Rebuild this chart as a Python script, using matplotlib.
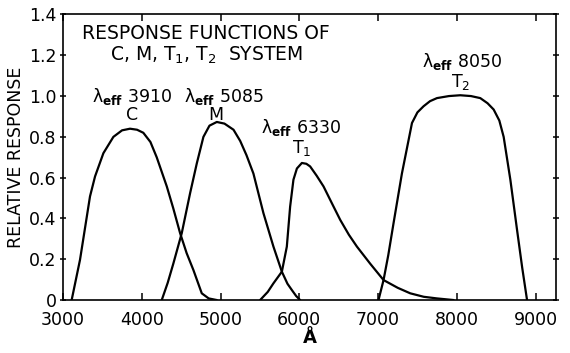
import numpy as np
import matplotlib
matplotlib.use("Agg")
import matplotlib.pyplot as plt

# response curves (wavelength in A, relative response)
c_wl = [3110, 3216, 3343, 3407, 3513, 3640, 3750, 3851, 3940, 4020, 4110, 4190,
        4318, 4400, 4487, 4570, 4656, 4762, 4850, 4953]
c_r = [0, 0.197, 0.508, 0.606, 0.72, 0.80, 0.832, 0.84, 0.835, 0.82, 0.775, 0.70,
       0.557, 0.45, 0.328, 0.23, 0.147, 0.033, 0.008, 0]

m_wl = [4254, 4330, 4402, 4508, 4614, 4699, 4783, 4860, 4953, 5050, 5165, 5250,
        5330, 5418, 5545, 5672, 5779, 5850, 5906, 5960, 6011]
m_r = [0, 0.085, 0.18, 0.328, 0.524, 0.67, 0.80, 0.855, 0.873, 0.865, 0.835, 0.78,
       0.71, 0.62, 0.426, 0.262, 0.139, 0.08, 0.049, 0.02, 0]

t1_wl = [5503, 5600, 5672, 5779, 5842, 5884, 5926, 5970, 6033, 6090, 6138, 6220,
         6308, 6420, 6520, 6630, 6732, 6901, 7070, 7250, 7409, 7580, 7748, 7960]
t1_r = [0, 0.04, 0.082, 0.139, 0.262, 0.458, 0.59, 0.645, 0.672, 0.668, 0.655, 0.61,
        0.557, 0.47, 0.393, 0.32, 0.262, 0.178, 0.098, 0.06, 0.033, 0.016, 0.008, 0]

t2_wl = [7006, 7070, 7130, 7197, 7303, 7431, 7500, 7578, 7660, 7748, 7900, 8044,
         8180, 8298, 8390, 8468, 8540, 8595, 8680, 8765, 8830, 8892]
t2_r = [0, 0.098, 0.22, 0.377, 0.62, 0.868, 0.92, 0.95, 0.975, 0.99, 1.0, 1.004,
        1.0, 0.99, 0.965, 0.934, 0.88, 0.80, 0.59, 0.344, 0.16, 0]

x_ticks = [3000, 4000, 5000, 6000, 7000, 8000, 9000]
y_ticks = [0, 0.2, 0.4, 0.6, 0.8, 1.0, 1.2, 1.4]
y_labels = ['0', '0.2', '0.4', '0.6', '0.8', '1.0', '1.2', '1.4']

fig = plt.figure(figsize=(5.7, 3.53), dpi=100)
ax = fig.add_axes([0.1105, 0.150, 0.865, 0.809])

for wl, r in [(c_wl, c_r), (m_wl, m_r), (t1_wl, t1_r), (t2_wl, t2_r)]:
    ax.plot(wl, r, color='black', lw=1.6, solid_capstyle='round')

ax.set_xlim(3000, 9260)
ax.set_ylim(0, 1.4)
ax.set_xticks(x_ticks)
ax.set_yticks(y_ticks)
ax.set_yticklabels(y_labels)
ax.tick_params(axis='both', labelsize=12.5, length=5, width=1.1, color='black')
ax.tick_params(axis='x', direction='in', top=True, pad=8)
ax.tick_params(axis='y', direction='inout', right=True, pad=2)
for s in ax.spines.values():
    s.set_linewidth(1.2)

ax.set_ylabel('RELATIVE RESPONSE', fontsize=12.5, labelpad=3)
ax.set_xlabel('Å', fontsize=13, fontweight='bold', labelpad=0)

ax.text(4820, 1.305, 'RESPONSE FUNCTIONS OF', fontsize=13.5, ha='center', va='center')
ax.text(4820, 1.2, r'C, M, T$_\mathregular{1}$, T$_\mathregular{2}$  SYSTEM',
        fontsize=13.5, ha='center', va='center')

lab = r'λ$_\mathbf{eff}$'
ax.text(3877, 1.0, lab + ' 3910', fontsize=12.5, ha='center', va='center')
ax.text(3877, 0.905, 'C', fontsize=12.5, ha='center', va='center')
ax.text(5046, 1.0, lab + ' 5085', fontsize=12.5, ha='center', va='center')
ax.text(4944, 0.905, 'M', fontsize=12.5, ha='center', va='center')
ax.text(6025, 0.845, lab + ' 6330', fontsize=12.5, ha='center', va='center')
ax.text(6037, 0.745, r'T$_\mathregular{1}$', fontsize=12.5, ha='center', va='center')
ax.text(8070, 1.17, lab + ' 8050', fontsize=12.5, ha='center', va='center')
ax.text(8050, 1.07, r'T$_\mathregular{2}$', fontsize=12.5, ha='center', va='center')

fig.savefig('out.png', dpi=100)
